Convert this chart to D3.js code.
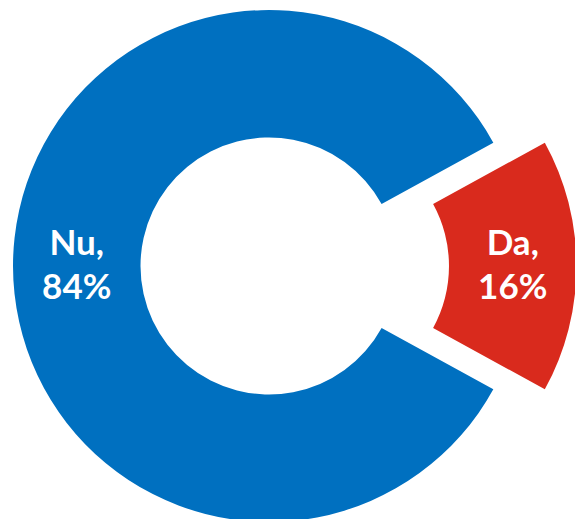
<!DOCTYPE html>
<html>
<head>
<meta charset="utf-8">
<script src="https://cdn.jsdelivr.net/npm/d3@7"></script>
<style>
    body { margin: 0; background: #fff; }
    svg { display: block; }
</style>
</head>
<body>
<svg id="vis" width="575" height="519"></svg>
<script>
const categories = ["Da", "Nu"];
const values = [16, 84];
const colors = ["#D92A1D", "#0070C0"];
const exploded = [true, false];

const width = 575;
const height = 519;
const cx = 269;
const cy = 266;
const outerRadius = 256;
const innerRadius = 128.5;
const explodeOffset = 51.5;

let slices = categories.map((name, i) => ({
    name,
    value: values[i],
    color: colors[i],
    exploded: exploded[i]
}));

// Da is centred on 3 o'clock, the rest of the ring follows clockwise
const firstShare = values[0] / d3.sum(values);
const start = Math.PI / 2 - firstShare * Math.PI;

const pie = d3.pie()
    .sort(null)
    .value(d => d.value)
    .startAngle(start)
    .endAngle(start + 2 * Math.PI);

const arc = d3.arc()
    .innerRadius(innerRadius)
    .outerRadius(outerRadius);

const total = d3.sum(values);
const pct = d3.format(".0%");

let svg = d3.select("svg#vis");

let g = svg.append("g")
    .attr("transform", `translate(${cx},${cy})`);

let arcs = g.selectAll("g.slice")
    .data(pie(slices))
    .enter()
    .append("g")
    .classed("slice", true)
    .attr("transform", function (d) {
        if (!d.data.exploded) return null;
        let mid = (d.startAngle + d.endAngle) / 2;
        return `translate(${Math.sin(mid) * explodeOffset},${-Math.cos(mid) * explodeOffset})`;
    });

arcs.append("path")
    .attr("d", arc)
    .attr("fill", d => d.data.color);

let labels = arcs.append("text")
    .attr("transform", d => `translate(${arc.centroid(d)})`)
    .attr("text-anchor", "middle")
    .attr("fill", "#fff")
    .style("font-family", "Lato, 'Open Sans', sans-serif")
    .style("font-weight", 700)
    .style("font-size", "35px");

labels.append("tspan")
    .attr("x", 0)
    .attr("y", -11)
    .text(d => d.data.name + ",");

labels.append("tspan")
    .attr("x", 0)
    .attr("y", 33)
    .text(d => pct(d.data.value / total));
</script>
</body>
</html>
